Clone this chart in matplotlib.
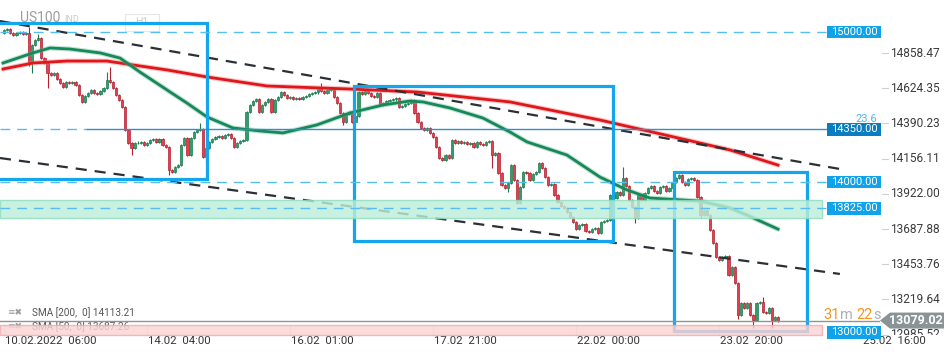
import matplotlib
matplotlib.use("Agg")
import matplotlib.pyplot as plt
import matplotlib.transforms as mtransforms
from matplotlib.patches import Rectangle, Polygon

plt.rcParams["font.family"] = ["Roboto", "DejaVu Sans"]

# US100 H1 candles, 10.02 - 23.02 (open of first candle, then closes)
first_open = 14990
closes = [
    15010, 15018, 14990, 14978, 14990, 14998, 14985, 14990, 14799, 14912,
    14945, 14958, 14825, 14792, 14726, 14712, 14726, 14686, 14659, 14632,
    14666, 14659, 14666, 14646, 14579, 14533, 14573, 14593, 14613, 14593,
    14586, 14606, 14626, 14679, 14666, 14626, 14579, 14546, 14499, 14346,
    14260, 14227, 14260, 14262, 14267, 14247, 14260, 14280, 14287, 14267,
    14287, 14247, 14234, 14080, 14067, 14100, 14114, 14247, 14293, 14180,
    14293, 14333, 14346, 14350, 14167, 14227, 14267, 14287, 14300, 14307,
    14293, 14313, 14320, 14293, 14234, 14260, 14273, 14280, 14466, 14513,
    14539, 14553, 14466, 14513, 14533, 14553, 14466, 14546, 14566, 14599,
    14579, 14559, 14566, 14553, 14559, 14553, 14566, 14573, 14586, 14593,
    14596, 14626, 14606, 14593, 14613, 14616, 14566, 14526, 14460, 14400,
    14453, 14466, 14400, 14440, 14599, 14586, 14606, 14593, 14573, 14566,
    14593, 14513, 14526, 14539, 14545, 14550, 14556, 14499, 14506, 14519,
    14525, 14546, 14460, 14400, 14360, 14346, 14360, 14327, 14300, 14234,
    14160, 14147, 14180, 14160, 14280, 14260, 14273, 14260, 14267, 14254,
    14260, 14234, 14267, 14254, 14247, 14267, 14272, 14180, 14194, 14060,
    13981, 13961, 13994, 14114, 14014, 13860, 13967, 14067, 14060, 14014,
    14054, 14067, 14127, 14094, 14034, 13981, 13987, 13914, 13868, 13841,
    13828, 13801, 13768, 13735, 13688, 13715, 13720, 13675, 13668, 13688,
    13695, 13662, 13735, 13740, 13748, 13914, 13894, 13934, 13914, 14027,
    13974, 13881, 13834, 13761, 13914, 13881, 13928, 13961, 13974, 13941,
    13928, 13967, 13974, 13941, 13961, 14001, 14027, 14047, 14001, 13981,
    14021, 14027, 14014, 13901, 13781, 13815, 13781, 13682, 13595, 13502,
    13482, 13502, 13508, 13383, 13435, 13329, 13116, 13196, 13163, 13196,
    13116, 13083, 13196, 13203, 13136, 13130, 13163, 13083, 13103, 13079,
]
# candles with long shadows: index -> (high, low)
long_wicks = {
    8: (15031, 14772), 9: (None, 14726), 11: (14985, None), 14: (None, 14626),
    33: (14732, None), 34: (14765, None), 41: (None, 14180), 53: (None, 14047),
    63: (14393, None), 65: (None, 14134), 102: (14659, None), 109: (None, 14380),
    157: (None, 14094), 162: (None, 13934), 199: (14100, None), 203: (None, 13730),
    224: (None, 13760), 236: (None, 13090), 241: (None, 13030), 244: (13236, None),
    247: (None, 13030),
}
short_wick = 8

sma200_x = [-0.3, 9.3, 20.3, 33.1, 41.5, 52.4, 65.3, 84.6, 101.6, 111.3,
            132.8, 162.7, 191.6, 219.6, 233.4, 248.9]
sma200_y = [14752, 14792, 14805, 14805, 14779, 14746, 14699, 14639, 14626, 14619,
            14599, 14533, 14413, 14280, 14214, 14113]
sma50_x = [-0.3, 9.3, 14.8, 21.2, 30.9, 37.3, 43.7, 52.4, 58.8, 65.3, 73.6, 82.3,
           89.7, 100.6, 111.3, 121.9, 130.5, 134.7, 143.4, 154.0, 162.7, 168.2,
           181.0, 191.6, 200.3, 207.7, 223.8, 233.4, 238.9, 248.9]
sma50_y = [14792, 14859, 14892, 14885, 14859, 14825, 14732, 14613, 14526, 14433,
           14360, 14340, 14327, 14380, 14460, 14513, 14539, 14533, 14493, 14426,
           14333, 14267, 14180, 14034, 13948, 13894, 13874, 13828, 13781, 13687]

upper_trend_x = [-1.3, 268.8]
upper_trend_y = [15071, 14087]
lower_trend_x = [-1.3, 268.8]
lower_trend_y = [14160, 13389]

# rectangles drawn on the chart: (x0, x1, low, high)
boxes = [(-4.0, 65.3, 14021, 15058),
         (112.4, 195.8, 13608, 14639),
         (215.3, 258.2, 13007, 14064)]

dashed_levels = [15000, 14000, 13825]
solid_level = 14350
green_zone = (13761, 13881)
red_zone = (12983, 13050)
level_labels = ["15000.00", "14350.00", "14000.00", "13825.00", "13000.00"]
level_values = [15000, 14350, 14000, 13825, 13000]

y_ticks = ["14858.47", "14624.35", "14390.23", "14156.11", "13922.00",
           "13687.88", "13453.76", "13219.64", "12985.52"]
x_tick_idx = [0, 46, 92, 138, 184, 230, 276]
x_tick_labels = ["10.02.2022  06:00", "14.02  04:00", "16.02  01:00", "17.02  21:00",
                 "22.02  00:00", "23.02  20:00", "25.02  16:00"]
last_price = 13079.02
sma200_last = 14113.21
sma50_last = 13687.26

# figure
W, H = 950, 360
AX_W, AX_H = 880, 335
fig = plt.figure(figsize=(W / 100, H / 100), dpi=100)
ax = fig.add_axes([0, (H - AX_H) / H, AX_W / W, AX_H / H])
ax.set_xlim(-1.29, 281.7)
ax.set_ylim(12983, 15211)
ax.axis("off")

tb = mtransforms.blended_transform_factory(ax.transAxes, ax.transData)
tx = mtransforms.blended_transform_factory(ax.transData, ax.transAxes)
ppx = (15211 - 12983) / AX_H  # price per pixel

# candles
opens = [first_open] + closes[:-1]
for i, (o, c) in enumerate(zip(opens, closes)):
    hi = max(o, c) + short_wick
    lo = min(o, c) - short_wick
    if i in long_wicks:
        h2, l2 = long_wicks[i]
        hi = h2 if h2 else hi
        lo = l2 if l2 else lo
    up = c >= o
    body = "#2f9e6b" if up else "#e0404f"
    edge = "#1d7b4f" if up else "#b3212f"
    ax.vlines(i, lo, hi, color=edge, lw=0.8, zorder=3)
    ax.bar(i, max(abs(c - o), 2), bottom=min(o, c), width=0.72,
           color=body, edgecolor=edge, lw=0.5, zorder=3)

# moving averages
ax.plot(sma200_x, sma200_y, color="#f08080", lw=3.6, alpha=0.45, zorder=4,
        solid_capstyle="round")
ax.plot(sma200_x, sma200_y, color="#e0161b", lw=2.0, zorder=4)
ax.plot(sma50_x, sma50_y, color="#66b892", lw=3.6, alpha=0.4, zorder=4,
        solid_capstyle="round")
ax.plot(sma50_x, sma50_y, color="#16885a", lw=2.0, zorder=4)

# trend channel
for xs, ys in [(upper_trend_x, upper_trend_y), (lower_trend_x, lower_trend_y)]:
    ax.plot(xs, ys, color="#2b3037", lw=1.6, dashes=(5, 3.6), zorder=5)

# boxes
for x0, x1, lo, hi in boxes:
    ax.add_patch(Rectangle((x0, lo), x1 - x0, hi - lo, fill=False,
                           edgecolor="#14a6ec", lw=2.3, zorder=6))

# zones
for lo, hi, fc, ec in [(green_zone[0], green_zone[1], "#bdeedb", "#8edcbd"),
                       (red_zone[0], red_zone[1], "#fbd3d3", "#f2aaaa")]:
    ax.add_patch(Rectangle((0, lo), 822 / AX_W, hi - lo, transform=tb,
                           facecolor=fc, edgecolor=ec, lw=1.0, alpha=0.82,
                           zorder=7, clip_on=False))

# price levels
for lv in dashed_levels:
    ax.axhline(lv, xmin=0, xmax=826 / AX_W, color="#55bdf0", lw=1.0,
               dashes=(7, 5), zorder=8)
ax.axhline(solid_level, xmin=0, xmax=87 / AX_W, color="#55bdf0", lw=1.0,
           dashes=(7, 5), zorder=8)
ax.axhline(solid_level, xmin=87 / AX_W, xmax=828 / AX_W, color="#2f8fcc",
           lw=1.0, zorder=8)
ax.axhline(last_price, xmin=0, xmax=1, color="#8d9598", lw=1.0, zorder=8)

for txt, lv in zip(level_labels, level_values):
    fc = "#0a7dc2" if lv == solid_level else "#10a3ea"
    ax.add_patch(Rectangle((827 / AX_W, lv - 6.2 * ppx), 54 / AX_W, 12.4 * ppx,
                           transform=tb, facecolor=fc, edgecolor="none",
                           zorder=11, clip_on=False))
    ax.text(854 / AX_W, lv, txt, transform=tb, ha="center", va="center",
            color="white", fontsize=8, zorder=12, clip_on=False)
ax.text(877 / AX_W, solid_level + 10 * ppx, "23.6", transform=tb, ha="right",
        va="center", color="#4fb6ec", fontsize=8, zorder=12, clip_on=False)

# right price axis (the lowest label is cut by the bottom edge of the pane)
pane_clip = mtransforms.Bbox([[870, 25], [W, H]])
for lab in y_ticks:
    v = float(lab)
    ax.plot([882 / AX_W, 888 / AX_W], [v, v], transform=tb, color="#d0d0d0",
            lw=0.8, clip_on=False, zorder=9)
    t = ax.text(890 / AX_W, v, lab, transform=tb, ha="left", va="center",
                color="#3c3c3c", fontsize=8.6, zorder=9)
    t.set_clip_path(None)
    t.set_clip_box(pane_clip)
    t.set_clip_on(True)

# last price tag
hh = 8 * ppx
ax.add_patch(Polygon([(880 / AX_W, last_price), (890 / AX_W, last_price + hh),
                      (944 / AX_W, last_price + hh), (944 / AX_W, last_price - hh),
                      (890 / AX_W, last_price - hh)], closed=True, transform=tb,
                     facecolor="#8a9396", edgecolor="none", zorder=13, clip_on=False))
ax.text(916 / AX_W, last_price, f"{last_price:.2f}", transform=tb, ha="center",
        va="center", color="white", fontsize=9, fontweight="bold", zorder=14,
        clip_on=False)

# candle countdown
for s, px, col in [("31", 823, "#f7941d"), ("m", 840, "#b0b0b0"),
                   ("22", 856, "#f7941d"), ("s", 873, "#b0b0b0")]:
    ax.text(px / AX_W, last_price + 6 * ppx, s, transform=tb, ha="left",
            va="center", color=col, fontsize=10.5, zorder=12, clip_on=False)

# time axis
for idx, lab in zip(x_tick_idx, x_tick_labels):
    ax.plot([idx, idx], [0, 10 / AX_H], transform=tx, color="#e2e2e2", lw=0.8,
            zorder=2, clip_on=False)
    ax.text(idx + 0.3, -6 / AX_H, lab, transform=tx, ha="left", va="center",
            color="#333333", fontsize=8.2, clip_on=False)

# indicator legend
for py, col, txt in [(313, "#555555", f"SMA [200,  0] {sma200_last:.2f}"),
                     (327, "#555555", f"SMA [50,  0] {sma50_last:.2f}")]:
    ax.text(7 / AX_W, (AX_H - py) / AX_H, "\u2261\u2716", transform=ax.transAxes,
            ha="left", va="center", color="#9a9a9a", fontsize=6.5,
            family=["DejaVu Sans"], zorder=6)
    ax.text(32 / AX_W, (AX_H - py) / AX_H, txt, transform=ax.transAxes,
            ha="left", va="center", color=col, fontsize=7.2, zorder=6)

# faded instrument header
ax.text(20 / AX_W, (AX_H - 18) / AX_H, "US100", transform=ax.transAxes,
        ha="left", va="center", color="#9c9c9c", fontsize=10, zorder=1)
ax.text(64 / AX_W, (AX_H - 19) / AX_H, "IND", transform=ax.transAxes,
        ha="left", va="center", color="#cccccc", fontsize=6.5, zorder=1)
ax.add_patch(Rectangle((125 / AX_W, (AX_H - 31) / AX_H), 34 / AX_W, 17 / AX_H,
                       transform=ax.transAxes, fill=False, edgecolor="#e6e6e6",
                       lw=0.8, zorder=1))
ax.text(135 / AX_W, (AX_H - 22) / AX_H, "H1", transform=ax.transAxes,
        ha="left", va="center", color="#cccccc", fontsize=7.5, zorder=1)

fig.savefig("out.png", dpi=100, facecolor="white")
